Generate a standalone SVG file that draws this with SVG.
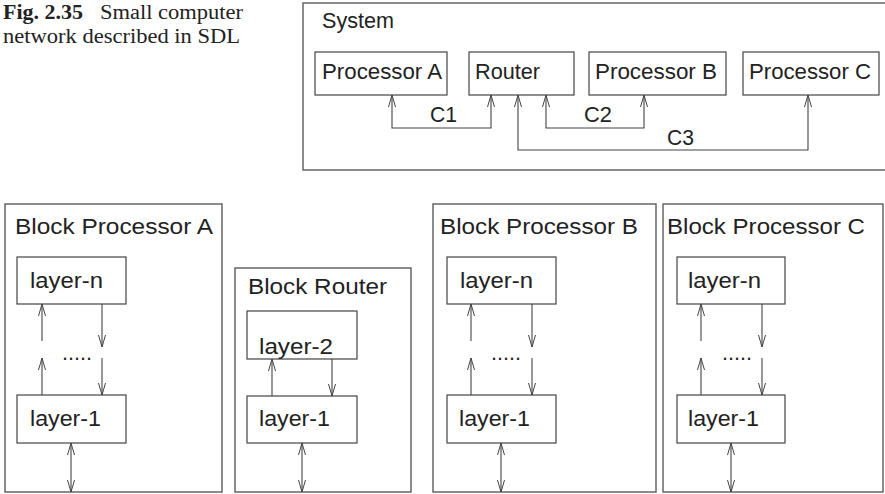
<svg xmlns="http://www.w3.org/2000/svg" width="885" height="494" viewBox="0 0 885 494">
<defs>
<marker id="ah" viewBox="-13 -5 14 10" refX="0" refY="0" markerWidth="14" markerHeight="10" markerUnits="userSpaceOnUse" orient="auto-start-reverse">
<path d="M-12,-3.5 L0,0 L-12,3.5" fill="none" stroke="#444" stroke-width="1"/>
</marker>
<style>
.t{font-family:"Liberation Sans",Arial,sans-serif;font-size:22px;fill:#222}
.cap{font-family:"Liberation Serif","Times New Roman",serif;font-size:20px;fill:#222}
.b{fill:#fff;stroke:#444;stroke-width:1.2}
.o{fill:none;stroke:#666;stroke-width:1.5}
.c{fill:none;stroke:#444;stroke-width:1.1}
.c1{fill:none;stroke:#444;stroke-width:1.1;marker-end:url(#ah)}
.c2{fill:none;stroke:#444;stroke-width:1.1;marker-start:url(#ah);marker-end:url(#ah)}
</style>
</defs>
<g id="caption">
<text class="cap" x="3" y="19" textLength="80" lengthAdjust="spacingAndGlyphs" font-weight="bold">Fig. 2.35</text>
<text class="cap" x="100" y="19" textLength="143" lengthAdjust="spacingAndGlyphs">Small computer</text>
<text class="cap" x="3" y="43" textLength="237" lengthAdjust="spacingAndGlyphs">network described in SDL</text>
</g>
<g id="system">
<rect class="o" x="303" y="3" width="600" height="167"/>
<text class="t" x="322" y="28" textLength="72" lengthAdjust="spacingAndGlyphs">System</text>
</g>
<g id="processorA">
<rect class="b" x="315" y="52" width="132" height="43"/>
<text class="t" x="322" y="79" textLength="120" lengthAdjust="spacingAndGlyphs">Processor A</text>
</g>
<g id="router">
<rect class="b" x="469" y="52" width="105" height="43"/>
<text class="t" x="475" y="79" textLength="65" lengthAdjust="spacingAndGlyphs">Router</text>
</g>
<g id="processorB">
<rect class="b" x="589" y="52" width="137" height="43"/>
<text class="t" x="595" y="79" textLength="122" lengthAdjust="spacingAndGlyphs">Processor B</text>
</g>
<g id="processorC">
<rect class="b" x="743" y="52" width="136" height="43"/>
<text class="t" x="749" y="79" textLength="122" lengthAdjust="spacingAndGlyphs">Processor C</text>
</g>
<g id="blockA">
<rect class="o" x="5" y="204" width="217" height="288"/>
<text class="t" x="15" y="234" textLength="198" lengthAdjust="spacingAndGlyphs">Block Processor A</text>
<rect class="b" x="17" y="257" width="109" height="47"/>
<text class="t" x="30" y="288" textLength="73" lengthAdjust="spacingAndGlyphs">layer-n</text>
<rect class="b" x="17" y="395" width="109" height="48"/>
<text class="t" x="30" y="426" textLength="71" lengthAdjust="spacingAndGlyphs">layer-1</text>
<text class="t" x="62" y="360" textLength="30" lengthAdjust="spacingAndGlyphs">.....</text>
</g>
<g id="blockRouter">
<rect class="o" x="235" y="268" width="176" height="224"/>
<text class="t" x="248" y="294" textLength="139" lengthAdjust="spacingAndGlyphs">Block Router</text>
<rect class="b" x="247" y="311" width="110" height="48"/>
<text class="t" x="259" y="354" textLength="74" lengthAdjust="spacingAndGlyphs">layer-2</text>
<rect class="b" x="247" y="396" width="110" height="47"/>
<text class="t" x="259" y="426" textLength="71" lengthAdjust="spacingAndGlyphs">layer-1</text>
</g>
<g id="blockB">
<rect class="o" x="433" y="204" width="223" height="288"/>
<text class="t" x="440" y="234" textLength="198" lengthAdjust="spacingAndGlyphs">Block Processor B</text>
<rect class="b" x="447" y="257" width="109" height="47"/>
<text class="t" x="460" y="288" textLength="73" lengthAdjust="spacingAndGlyphs">layer-n</text>
<rect class="b" x="447" y="395" width="109" height="48"/>
<text class="t" x="459" y="426" textLength="71" lengthAdjust="spacingAndGlyphs">layer-1</text>
<text class="t" x="491" y="360" textLength="30" lengthAdjust="spacingAndGlyphs">.....</text>
</g>
<g id="blockC">
<rect class="o" x="663" y="204" width="220" height="288"/>
<text class="t" x="667" y="234" textLength="198" lengthAdjust="spacingAndGlyphs">Block Processor C</text>
<rect class="b" x="677" y="257" width="108" height="47"/>
<text class="t" x="688" y="288" textLength="73" lengthAdjust="spacingAndGlyphs">layer-n</text>
<rect class="b" x="677" y="395" width="108" height="48"/>
<text class="t" x="688" y="426" textLength="71" lengthAdjust="spacingAndGlyphs">layer-1</text>
<text class="t" x="722" y="360" textLength="30" lengthAdjust="spacingAndGlyphs">.....</text>
</g>
<g id="connectors">
<polyline class="c2" points="392,95 392,128 491,128 491,95"/>
<text class="t" x="430" y="122" textLength="27" lengthAdjust="spacingAndGlyphs">C1</text>
<polyline class="c2" points="546,95 546,128 644,128 644,95"/>
<text class="t" x="584" y="122" textLength="28" lengthAdjust="spacingAndGlyphs">C2</text>
<polyline class="c2" points="518,95 518,150 808,150 808,95"/>
<text class="t" x="667" y="145" textLength="27" lengthAdjust="spacingAndGlyphs">C3</text>
<line class="c1" x1="42" y1="341" x2="42" y2="304"/>
<line class="c1" x1="42" y1="395" x2="42" y2="358"/>
<line class="c1" x1="102" y1="304" x2="102" y2="347"/>
<line class="c1" x1="102" y1="358" x2="102" y2="395"/>
<line class="c2" x1="71" y1="443" x2="71" y2="492"/>
<line class="c1" x1="272" y1="396" x2="272" y2="359"/>
<line class="c1" x1="332" y1="359" x2="332" y2="396"/>
<line class="c2" x1="302" y1="443" x2="302" y2="492"/>
<line class="c1" x1="471" y1="341" x2="471" y2="304"/>
<line class="c1" x1="471" y1="395" x2="471" y2="358"/>
<line class="c1" x1="532" y1="304" x2="532" y2="347"/>
<line class="c1" x1="532" y1="358" x2="532" y2="395"/>
<line class="c2" x1="501" y1="443" x2="501" y2="492"/>
<line class="c1" x1="701" y1="341" x2="701" y2="304"/>
<line class="c1" x1="701" y1="395" x2="701" y2="358"/>
<line class="c1" x1="762" y1="304" x2="762" y2="347"/>
<line class="c1" x1="762" y1="358" x2="762" y2="395"/>
<line class="c2" x1="731" y1="443" x2="731" y2="492"/>
</g>
</svg>
